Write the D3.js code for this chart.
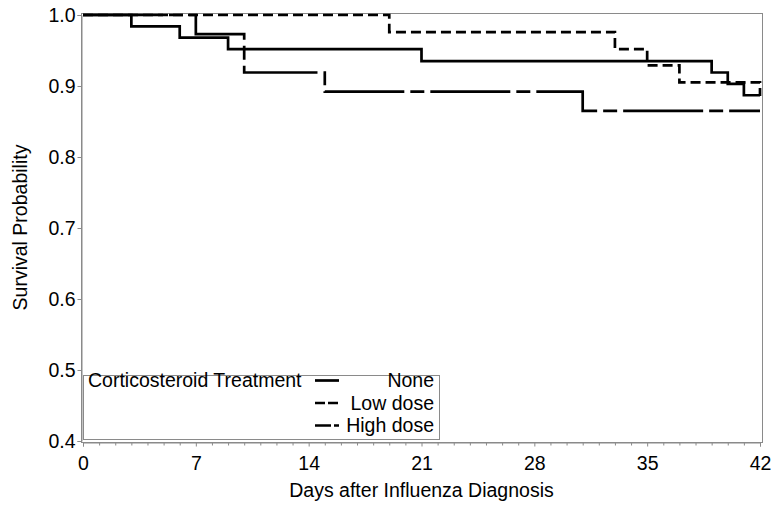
<!DOCTYPE html>
<html>
<head>
<meta charset="utf-8">
<script src="https://cdn.jsdelivr.net/npm/d3@7"></script>
<style>
  body { margin: 0; background: #fff; }
  text { font-family: "Liberation Sans", Arial, sans-serif; fill: #000; }
</style>
</head>
<body>
<script>
// Kaplan-Meier style step curves
var groups = ["None", "Low dose", "High dose"];

var noneDays = [0, 3, 6, 9, 21, 39, 40, 41, 42];
var noneSurv = [1.0, 0.984, 0.968, 0.952, 0.935, 0.919, 0.903, 0.887, 0.887];

var lowDays = [0, 19, 33, 35, 37, 42];
var lowSurv = [1.0, 0.976, 0.952, 0.929, 0.905, 0.886];

var highDays = [0, 7, 10, 15, 31, 42];
var highSurv = [1.0, 0.973, 0.919, 0.892, 0.865, 0.865];

var xTicks = [0, 7, 14, 21, 28, 35, 42];
var yTicks = [0.4, 0.5, 0.6, 0.7, 0.8, 0.9, 1.0];

var width = 773, height = 506;
var frame = {left: 81, right: 762, top: 13, bottom: 442};
var fontSize = "19.5px";

var svg = d3.select("body").append("svg")
    .attr("width", width)
    .attr("height", height);

var x = d3.scaleLinear().domain([0, 42]).range([83, 760]);
var y = d3.scaleLinear().domain([0.4, 1.0]).range([441, 15]);

// frame around the plot wall
svg.append("rect")
    .attr("x", frame.left + 0.5)
    .attr("y", frame.top + 0.5)
    .attr("width", frame.right - frame.left)
    .attr("height", frame.bottom - frame.top)
    .attr("fill", "none")
    .attr("stroke", "#8a8a8a")
    .attr("stroke-width", 1);

// x axis: majors every 7 days, minor tick each day
var xAxis = svg.append("g")
    .attr("transform", "translate(0," + (frame.bottom + 0.5) + ")")
    .call(d3.axisBottom(x).tickValues(xTicks).tickSize(4).tickPadding(10).tickFormat(d3.format("d")));
xAxis.append("g").selectAll("line")
    .data(d3.range(0, 43).filter(function(d) { return d % 7 != 0; }))
    .enter().append("line")
    .attr("x1", function(d) { return x(d) + 0.5; })
    .attr("x2", function(d) { return x(d) + 0.5; })
    .attr("y1", 0).attr("y2", 3)
    .attr("stroke", "#8a8a8a");

var yAxis = svg.append("g")
    .attr("transform", "translate(" + (frame.left + 0.5) + ",0)")
    .call(d3.axisLeft(y).tickValues(yTicks).tickSize(4).tickPadding(2).tickFormat(d3.format(".1f")));

[xAxis, yAxis].forEach(function(ax) {
  ax.select(".domain").attr("stroke", "#8a8a8a");
  ax.selectAll(".tick line").attr("stroke", "#8a8a8a");
  ax.selectAll(".tick text")
    .style("font-family", "'Liberation Sans', Arial, sans-serif")
    .style("font-size", fontSize)
    .attr("fill", "#000");
});

svg.append("text")
    .attr("x", (frame.left + frame.right) / 2)
    .attr("y", 497)
    .attr("text-anchor", "middle")
    .style("font-size", fontSize)
    .text("Days after Influenza Diagnosis");

svg.append("text")
    .attr("transform", "translate(27," + ((frame.top + frame.bottom) / 2) + ") rotate(-90)")
    .attr("text-anchor", "middle")
    .style("font-size", fontSize)
    .text("Survival Probability");

// curves
var series = [
  {name: groups[0], pts: d3.zip(noneDays, noneSurv), dash: null, legendDash: null},
  {name: groups[1], pts: d3.zip(lowDays, lowSurv), dash: "10,5", legendDash: "10,3"},
  {name: groups[2], pts: d3.zip(highDays, highSurv), dash: "80,6,14,6", legendDash: "16,3,5,4"}
];

var line = d3.line()
    .x(function(d) { return x(d[0]); })
    .y(function(d) { return y(d[1]); })
    .curve(d3.curveStepAfter);

svg.append("g").selectAll("path")
    .data(series)
    .enter().append("path")
    .attr("d", function(d) { return line(d.pts); })
    .attr("fill", "none")
    .attr("stroke", "#000")
    .attr("stroke-width", 2.7)
    .attr("stroke-dasharray", function(d) { return d.dash; });

// legend inside the plot, lower left
var legend = svg.append("g");
legend.append("rect")
    .attr("x", 83.5).attr("y", 375.5)
    .attr("width", 356).attr("height", 64)
    .attr("fill", "#fff")
    .attr("stroke", "#8a8a8a");

legend.append("text")
    .attr("x", 88).attr("y", 387)
    .style("font-size", fontSize)
    .text("Corticosteroid Treatment");

var item = legend.selectAll(".item")
    .data(series)
    .enter().append("g")
    .attr("class", "item")
    .attr("transform", function(d, i) { return "translate(0," + (387 + i * 22.5) + ")"; });

item.append("line")
    .attr("x1", 315).attr("x2", 339)
    .attr("y1", -6.5).attr("y2", -6.5)
    .attr("stroke", "#000")
    .attr("stroke-width", 2.7)
    .attr("stroke-dasharray", function(d) { return d.legendDash; });

item.append("text")
    .attr("x", 434)
    .attr("text-anchor", "end")
    .style("font-size", fontSize)
    .text(function(d) { return d.name; });
</script>
</body>
</html>
